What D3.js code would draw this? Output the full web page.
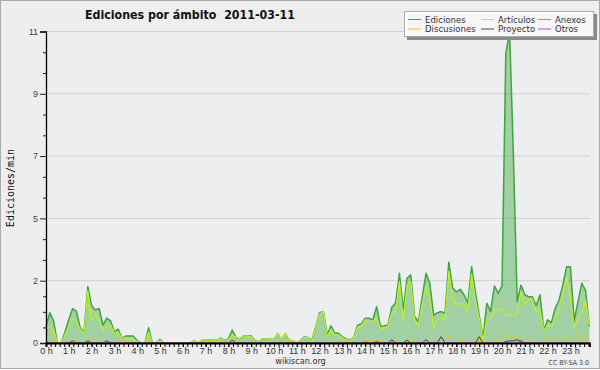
<!DOCTYPE html>
<html>
<head>
<meta charset="utf-8">
<script src="https://cdn.jsdelivr.net/npm/d3@7"></script>
<style>
  body { margin: 0; background: #fff; }
  svg { display: block; font-family: "DejaVu Sans Condensed", "DejaVu Sans", sans-serif; font-stretch: condensed; }
</style>
</head>
<body>
<div id="graf"></div>
<script>
// Datos: ediciones por minuto, un punto cada 10 minutos (144 puntos)
const titulo = "Ediciones por ámbito  2011-03-11"
const horas = ["0 h","1 h","2 h","3 h","4 h","5 h","6 h","7 h","8 h","9 h","10 h","11 h",
  "12 h","13 h","14 h","15 h","16 h","17 h","18 h","19 h","20 h","21 h","22 h","23 h"]

const ediciones = [
  0.6, 1.1, 0.8, 0, 0, 0.4, 0.85, 1.25, 1.15, 0.55, 0.38, 2.05,
  1.35, 1.2, 1.25, 0.65, 0.9, 0.8, 0.4, 0.5, 0.17, 0.25, 0.25, 0.25,
  0.08, 0, 0, 0.55, 0, 0, 0.13, 0, 0, 0, 0, 0,
  0, 0, 0, 0.1, 0, 0.1, 0.1, 0.1, 0.1, 0.1, 0.2, 0.1,
  0.15, 0.47, 0.2, 0.15, 0.25, 0.25, 0.25, 0.08, 0.05, 0.15, 0.15, 0.15,
  0.12, 0.35, 0.1, 0.35, 0.1, 0.08, 0, 0.1, 0.22, 0.2, 0.1, 0.6,
  1.1, 1.14, 0.3, 0.62, 0.35, 0.35, 0.22, 0.15, 0.1, 0.2, 0.65, 0.7,
  0.9, 0.9, 0.84, 1.32, 0.62, 0.63, 0.65, 1.3, 1.45, 2.53, 1.2, 2.35,
  2.47, 0.96, 0.77, 1.65, 2.53, 2.17, 1.0, 1.1, 1.14, 1.08, 2.93, 2.0,
  1.85, 1.95, 1.75, 1.45, 2.77, 1.85, 1.0, 0.17, 1.44, 1.14, 2.07, 1.8,
  2.07, 10.5, 11.3, 6.8, 1.5, 2.1, 1.75, 1.68, 1.68, 1.35, 1.75, 0.47,
  0.84, 0.74, 1.26, 1.55, 2.1, 2.77, 2.77, 0.8, 1.5, 2.17, 1.9, 0.6
]
const articulos = [
  0.5, 0.62, 0.5, 0, 0, 0.3, 0.6, 0.9, 0.8, 0.5, 0.36, 1.9,
  0.8, 1.05, 0.8, 0.47, 0.6, 0.65, 0.37, 0.4, 0.15, 0.2, 0.15, 0.13,
  0.05, 0, 0, 0.4, 0, 0, 0.1, 0, 0, 0, 0, 0,
  0, 0, 0, 0.1, 0, 0.1, 0.1, 0.1, 0.1, 0.08, 0.2, 0.1,
  0.12, 0.3, 0.2, 0.15, 0.25, 0.25, 0.22, 0.06, 0.05, 0.15, 0.15, 0.15,
  0.1, 0.35, 0.1, 0.35, 0.1, 0.08, 0, 0.1, 0.2, 0.2, 0.05, 0.6,
  1.05, 1.14, 0.22, 0.5, 0.3, 0.3, 0.18, 0.12, 0.08, 0.17, 0.57, 0.62,
  0.84, 0.77, 0.77, 0.96, 0.5, 0.55, 0.62, 1.1, 1.14, 2.23, 0.84, 2.1,
  2.23, 0.84, 0.65, 1.4, 2.05, 1.68, 0.55, 0.85, 0.9, 0.86, 2.6, 1.6,
  1.4, 1.44, 1.4, 1.14, 2.5, 1.56, 0.9, 0.1, 0.86, 0.86, 1.25, 1.2,
  1.25, 1.0, 1.0, 1.0, 1.1, 1.87, 1.4, 1.56, 1.6, 1.14, 1.2, 0.47,
  0.65, 0.6, 0.96, 1.2, 1.8, 2.41, 1.6, 0.53, 0.9, 1.08, 1.56, 0.65
]
const discusiones = [
  0.15, 0.35, 0.1, 0, 0, 0, 0.05, 0.13, 0.1, 0, 0.05, 0.15,
  0.25, 0.05, 0.15, 0.05, 0.05, 0, 0.05, 0.1, 0.17, 0.1, 0.05, 0,
  0, 0, 0, 0.15, 0, 0, 0, 0, 0, 0, 0, 0,
  0, 0, 0, 0, 0, 0, 0, 0, 0, 0, 0, 0,
  0, 0, 0, 0, 0, 0, 0, 0, 0, 0, 0, 0,
  0, 0, 0, 0, 0, 0, 0, 0, 0, 0, 0, 0,
  0, 0, 0.05, 0.07, 0, 0, 0, 0, 0, 0, 0, 0.05,
  0.1, 0.1, 0.1, 0.05, 0.1, 0.05, 0.05, 0.05, 0.12, 0.05, 0.05, 0.1,
  0.1, 0.05, 0, 0.05, 0.05, 0.05, 0, 0.05, 0.05, 0.05, 0.25, 0.2,
  0.05, 0.08, 0.08, 0, 0, 0.05, 0.1, 0.1, 0.05, 0, 0.1, 0.05,
  0.1, 0.35, 0.2, 0.22, 0.25, 0.1, 0, 0.05, 0.1, 0.15, 0, 0.05,
  0.25, 0.1, 0.25, 0.1, 0.15, 0.25, 0.1, 0.15, 0.35, 0.05, 0.1, 0.05
]
const anexos = [
  0, 0, 0, 0, 0, 0, 0, 0, 0, 0, 0, 0,
  0, 0, 0, 0, 0, 0, 0, 0, 0, 0, 0, 0,
  0, 0, 0, 0, 0, 0, 0, 0, 0, 0, 0, 0,
  0, 0, 0, 0, 0, 0, 0, 0, 0, 0, 0, 0,
  0, 0, 0, 0, 0, 0, 0, 0, 0, 0, 0, 0,
  0, 0, 0, 0, 0, 0, 0, 0, 0, 0, 0, 0,
  0, 0, 0, 0, 0, 0, 0, 0, 0, 0, 0, 0,
  0.08, 0, 0, 0, 0, 0, 0, 0.05, 0, 0, 0, 0,
  0, 0, 0, 0, 0, 0, 0, 0, 0, 0, 0, 0,
  0, 0, 0, 0, 0, 0, 0, 0, 0, 0, 0, 0,
  0, 0, 0, 0, 0, 0.12, 0, 0, 0, 0, 0, 0,
  0, 0, 0, 0, 0, 0, 0, 0, 0, 0, 0, 0
]
const proyecto = [
  0, 0, 0, 0, 0, 0, 0, 0.08, 0, 0, 0, 0.08,
  0, 0, 0, 0, 0.08, 0, 0, 0, 0, 0, 0, 0,
  0, 0, 0, 0, 0, 0, 0, 0, 0, 0, 0, 0,
  0, 0, 0, 0, 0, 0, 0, 0, 0, 0, 0, 0,
  0, 0.1, 0, 0, 0, 0, 0, 0, 0, 0, 0, 0,
  0, 0, 0, 0, 0, 0, 0, 0, 0, 0, 0, 0,
  0, 0, 0, 0, 0, 0, 0, 0, 0, 0, 0, 0,
  0, 0, 0, 0.05, 0, 0, 0, 0.12, 0, 0, 0, 0.1,
  0, 0, 0, 0, 0.12, 0, 0, 0, 0.23, 0, 0, 0,
  0, 0, 0, 0, 0, 0, 0.23, 0, 0, 0, 0, 0,
  0, 0.05, 0.08, 0.08, 0.12, 0.05, 0, 0, 0, 0, 0, 0,
  0, 0, 0, 0, 0, 0, 0, 0, 0, 0, 0, 0
]
const otros = [
  0, 0, 0, 0, 0, 0, 0, 0, 0, 0, 0, 0,
  0, 0, 0, 0, 0, 0, 0, 0, 0, 0, 0, 0,
  0, 0, 0, 0, 0, 0, 0, 0, 0, 0, 0, 0,
  0, 0, 0, 0, 0, 0, 0, 0, 0, 0, 0, 0,
  0, 0, 0, 0, 0, 0, 0, 0, 0, 0, 0, 0,
  0, 0, 0, 0, 0, 0, 0, 0, 0, 0, 0, 0,
  0, 0, 0, 0, 0, 0, 0, 0, 0, 0, 0, 0,
  0, 0, 0, 0, 0, 0, 0, 0, 0, 0, 0, 0,
  0, 0, 0, 0, 0, 0, 0, 0, 0, 0, 0, 0,
  0, 0, 0, 0, 0, 0, 0, 0, 0, 0, 0, 0,
  0, 0, 0, 0, 0, 0, 0, 0, 0, 0, 0, 0,
  0, 0, 0, 0, 0, 0, 0, 0, 0, 0, 0, 0
]

const series = [
  { nombre: "Ediciones", datos: ediciones, color: "#3da63d", ancho: 1.5 },
  { nombre: "Artículos", datos: articulos, color: "#bff022", ancho: 1.2 },
  { nombre: "Anexos", datos: anexos, color: "#f07a3a", ancho: 1 },
  { nombre: "Discusiones", datos: discusiones, color: "#f2c428", ancho: 1 },
  { nombre: "Proyecto", datos: proyecto, color: "#444444", ancho: 1 },
  { nombre: "Otros", datos: otros, color: "#9955ee", ancho: 1 }
]

// dimensiones
const anchoTotal = 600
const altoTotal = 370
const plot = { left: 46, right: 590, top: 31.5, bottom: 343 }

const svg = d3.select("#graf").append("svg")
  .attr("width", anchoTotal)
  .attr("height", altoTotal)

svg.append("rect")
  .attr("x", 0.5).attr("y", 0.5)
  .attr("width", anchoTotal - 1).attr("height", altoTotal - 2)
  .attr("fill", "#eeeeee")
  .attr("stroke", "#aaaaaa")

svg.append("rect")
  .attr("x", plot.left).attr("y", plot.top)
  .attr("width", plot.right - plot.left).attr("height", plot.bottom - plot.top)
  .attr("fill", "#eceef0")

// escalas
const n = ediciones.length
const x = d3.scaleLinear().domain([0, n - 1]).range([plot.left, plot.right - 0.6])
const yMax = d3.max(ediciones)
const y = d3.scaleLinear().domain([0, yMax]).range([plot.bottom, plot.top])

const yTicks = d3.range(6).map((k) => (yMax * k) / 5)
const subdiv = [4, 3, 3, 3, 3]
const yMinor = []
subdiv.forEach((s, k) => {
  for (let j = 1; j < s; j++) yMinor.push(yTicks[k] + ((yTicks[k + 1] - yTicks[k]) * j) / s)
})

// líneas de la rejilla
svg.append("g").selectAll("line").data(yTicks.slice(1))
  .join("line")
  .attr("x1", plot.left).attr("x2", plot.right)
  .attr("y1", (d) => y(d)).attr("y2", (d) => y(d))
  .attr("stroke", "#cfcfcf")

// área y líneas
const area = d3.area()
  .x((d, i) => x(i))
  .y0(y(0))
  .y1((d) => y(d))

svg.append("path")
  .datum(ediciones)
  .attr("d", area)
  .attr("fill", "#44aa44")
  .attr("fill-opacity", 0.45)

const linea = d3.line()
  .x((d, i) => x(i))
  .y((d) => y(d))

const orden = ["Ediciones", "Artículos", "Discusiones", "Anexos", "Proyecto", "Otros"]
orden.forEach((nom) => {
  const s = series.find((d) => d.nombre === nom)
  svg.append("path")
    .datum(s.datos)
    .attr("d", linea)
    .attr("fill", "none")
    .attr("stroke", s.color)
    .attr("stroke-width", s.ancho)
    .attr("stroke-linejoin", "round")
})

// ejes
const yAxis = d3.axisLeft(y).tickValues(yTicks).tickFormat(d3.format(".0f")).tickSize(6).tickPadding(2)
const gy = svg.append("g").attr("transform", `translate(${plot.left},0)`).call(yAxis)
gy.select(".domain").attr("stroke", "#000").attr("stroke-width", 1.3)
gy.selectAll("text").attr("font-size", 9).attr("fill", "#444")
gy.selectAll(".tick line").attr("stroke", "#222")

svg.append("g").attr("transform", `translate(${plot.left},0)`)
  .call(d3.axisLeft(y).tickValues(yMinor).tickFormat("").tickSize(3))
  .call((g) => g.select(".domain").remove())
  .selectAll("line").attr("stroke", "#222")

const horaIdx = horas.map((h, i) => i * 6)
const xMinor = d3.range(0, n - 0.5, 1.2)

svg.append("g").attr("transform", `translate(0,${plot.bottom})`)
  .call(d3.axisBottom(x).tickValues(xMinor).tickFormat("").tickSize(4))
  .call((g) => g.select(".domain").remove())
  .selectAll("line").attr("stroke", "#000")

const gx = svg.append("g").attr("transform", `translate(0,${plot.bottom})`)
  .call(d3.axisBottom(x).tickValues(horaIdx).tickFormat((d, i) => horas[i]).tickSize(4).tickPadding(1))
gx.select(".domain").attr("stroke", "#000").attr("stroke-width", 2)
gx.selectAll(".tick line").attr("stroke", "#000")
gx.selectAll("text").attr("font-size", 9).attr("fill", "#333")

// textos
svg.append("text")
  .attr("x", 85).attr("y", 18.5)
  .attr("font-size", 12.3)
  .attr("font-weight", "bold")
  .attr("fill", "#111")
  .attr("xml:space", "preserve")
  .style("white-space", "pre")
  .text(titulo)

svg.append("text")
  .attr("transform", "translate(13.5,188) rotate(-90)")
  .attr("text-anchor", "middle")
  .attr("font-family", "DejaVu Sans Mono")
  .attr("font-size", 10)
  .attr("fill", "#111")
  .text("Ediciones/min")

svg.append("text")
  .attr("x", 300.5).attr("y", 363.5)
  .attr("text-anchor", "middle")
  .attr("font-size", 9)
  .attr("fill", "#333")
  .text("wikiscan.org")

svg.append("text")
  .attr("x", 589).attr("y", 365)
  .attr("text-anchor", "end")
  .attr("font-size", 7)
  .attr("fill", "#444")
  .text("CC BY-SA 3.0")

// leyenda
const leyenda = svg.append("g")
leyenda.append("rect")
  .attr("x", 407).attr("y", 14)
  .attr("width", 190).attr("height", 26)
  .attr("fill", "#8a8a8a")
leyenda.append("rect")
  .attr("x", 404.5).attr("y", 11.5)
  .attr("width", 189).attr("height", 25)
  .attr("fill", "#ffffff")
  .attr("fill-opacity", 0.92)
  .attr("stroke", "#aaaaaa")

const colX = [408, 481, 538]
const filaY = [19.5, 29]
const items = leyenda.selectAll("g.item").data(series)
  .join("g")
  .attr("class", "item")
  .attr("transform", (d, i) => `translate(${colX[i % 3]},${filaY[Math.floor(i / 3)]})`)
items.append("line")
  .attr("x1", 0).attr("x2", 13)
  .attr("stroke", (d) => d.color)
  .attr("stroke-width", 1)
items.append("text")
  .attr("x", 17).attr("y", 3.3)
  .attr("font-size", 9.5)
  .attr("fill", "#333")
  .text((d) => d.nombre)
</script>
</body>
</html>
